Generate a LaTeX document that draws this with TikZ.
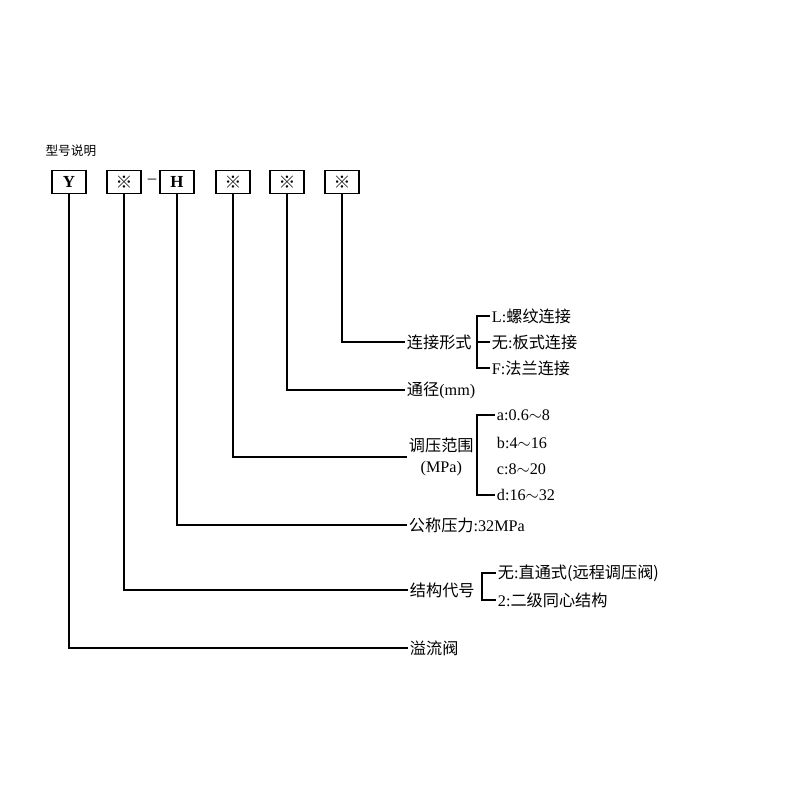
\documentclass[tikz,border=0pt]{standalone}
\usepackage{fontspec}
\setmainfont{Liberation Serif}
\newfontfamily\cjk{Noto Sans CJK SC}
\begin{document}
\begin{tikzpicture}[x=0.025cm, y=-0.025cm, line width=0.8pt,
  codebox/.style={rectangle, draw, minimum width=0.85cm, minimum height=0.57cm, inner sep=0pt, font=\fontsize{12}{14}\selectfont\bfseries},
  lbl/.style={anchor=west, inner sep=1pt, font=\fontsize{11.5}{15}\selectfont},
  opt/.style={anchor=west, inner sep=1pt, font=\fontsize{11.5}{14}\selectfont}]

  \useasboundingbox (0,0) rectangle (800,800);

  % Title
  \node (title) [anchor=west, inner sep=0pt, font=\cjk\fontsize{9}{11}\selectfont] at (45,151) {型号说明};

  % Code boxes
  \node (bY) [codebox] at (69,182) {Y};
  \node (bA) [codebox] at (124,182) {\normalfont\cjk ※};
  \node (dash) [font=\fontsize{12}{14}\selectfont] at (152,181) {--};
  \node (bH) [codebox] at (177,182) {H};
  \node (bB) [codebox] at (233,182) {\normalfont\cjk ※};
  \node (bC) [codebox] at (287,182) {\normalfont\cjk ※};
  \node (bD) [codebox] at (342,182) {\normalfont\cjk ※};

  % Connection type
  \node (lconn) [lbl] at (405,342) {\cjk 连接形式};
  \node (oL) [opt] at (490,316) {L:{\cjk 螺纹连接}};
  \node (oW) [opt] at (490,342) {{\cjk 无}:{\cjk 板式连接}};
  \node (oF) [opt] at (490,368) {F:{\cjk 法兰连接}};
  \draw (bD.south) |- (lconn.west);
  \draw (oL.west) -- ++(-13,0) |- (oF.west);
  \draw (oW.west) -- ++(-13,0);

  % Diameter
  \node (ldia) [lbl] at (405,390) {{\cjk 通径}(mm)};
  \draw (bC.south) |- (ldia.west);

  % Pressure range
  \node (lrange) [lbl, align=center] at (407,457) {{\cjk 调压范围}\\(MPa)};
  \node (oa) [opt] at (495,415) {a:0.6$\sim$8};
  \node (ob) [opt] at (495,443) {b:4$\sim$16};
  \node (oc) [opt] at (495,469) {c:8$\sim$20};
  \node (od) [opt] at (495,495) {d:16$\sim$32};
  \draw (bB.south) |- (lrange.west);
  \draw (oa.west) -- ++(-18,0) |- (od.west);

  % Nominal pressure
  \node (lpres) [lbl] at (407,525) {{\cjk 公称压力}:32MPa};
  \draw (bH.south) |- (lpres.west);

  % Structure code
  \node (lstruct) [lbl] at (408,590) {\cjk 结构代号};
  \node (oS) [opt] at (496,573) {{\cjk 无}:{\cjk 直通式(远程调压阀)}};
  \node (oT) [opt] at (496,600) {2:{\cjk 二级同心结构}};
  \draw (bA.south) |- (lstruct.west);
  \draw (oS.west) -- ++(-14,0) |- (oT.west);

  % Valve
  \node (lvalve) [lbl] at (408,648) {\cjk 溢流阀};
  \draw (bY.south) |- (lvalve.west);

\end{tikzpicture}
\end{document}
